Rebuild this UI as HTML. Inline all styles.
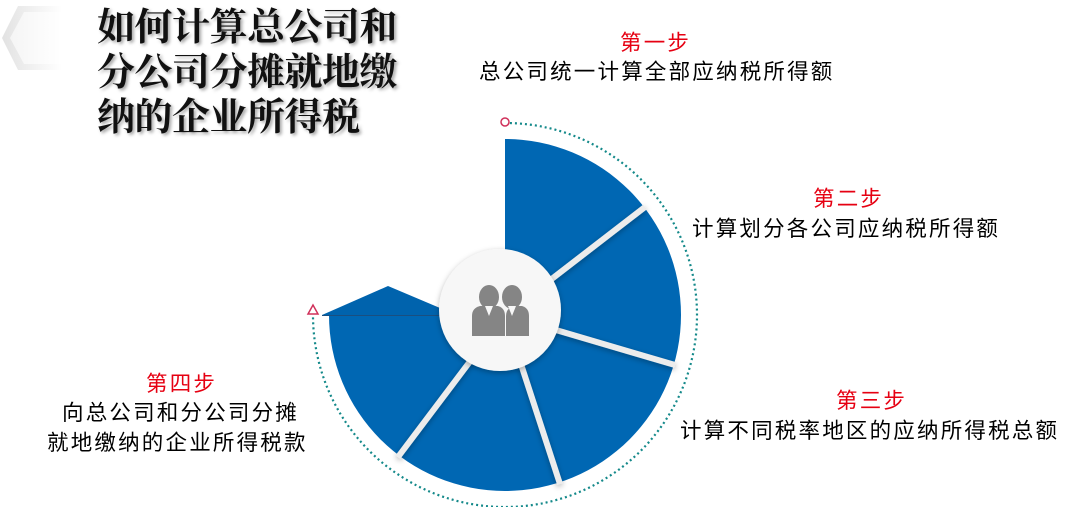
<!DOCTYPE html>
<html><head><meta charset="utf-8"><style>
body{margin:0;width:1080px;height:507px;background:#fff;overflow:hidden;position:relative;font-family:"Liberation Sans","Noto Sans CJK SC",sans-serif}
.t{position:absolute;white-space:nowrap;color:#000;font-size:21.5px;letter-spacing:2.2px;line-height:1}
.r{color:#e60012}
.title{position:absolute;left:97px;top:6px;font-family:"Liberation Serif","Noto Serif CJK SC",serif;font-weight:bold;font-size:38px;line-height:45px;color:#111;text-shadow:2px 2px 3px rgba(0,0,0,.35);letter-spacing:-0.5px}
</style></head><body>
<svg width="1080" height="507" style="position:absolute;left:0;top:0">
<defs>
<linearGradient id="g" x1="0" y1="0" x2="1" y2="0"><stop offset="0" stop-color="#e2e2e2"/><stop offset="1" stop-color="#fff"/></linearGradient>
<filter id="sh" x="-30%" y="-30%" width="160%" height="160%"><feDropShadow dx="0" dy="2" stdDeviation="3" flood-color="#000" flood-opacity=".3"/></filter>
</defs>
<polygon points="18,6 62,6 62,70 18,70 2,38" fill="url(#g)"/>
<polygon points="24,12 62,12 62,64 24,64 10,38" fill="#fff" opacity=".6"/>
<path d="M505,123 A192 192 0 1 1 313,315" fill="none" stroke="#14898a" stroke-width="2.2" stroke-dasharray="2 3"/>
<circle cx="505" cy="122" r="4" fill="#fff" stroke="#d0305a" stroke-width="1.5"/>
<polygon points="313,305 308,314 318,314" fill="#fff" stroke="#d0305a" stroke-width="1.5"/>
<path d="M505,315 L505,139 A176 176 0 1 1 329,315 Z" fill="#0067b3"/>
<polygon points="322,315 388,286 440,308 440,316" fill="#0063ad"/>
<line x1="322" y1="315.5" x2="440" y2="315.5" stroke="#1a4f80" stroke-width="1"/>
<g stroke="#ececec" stroke-width="6" filter="url(#sh)">
<line x1="505" y1="315" x2="645" y2="207"/>
<line x1="505" y1="315" x2="675" y2="365"/>
<line x1="505" y1="315" x2="560" y2="484"/>
<line x1="505" y1="315" x2="398" y2="457"/>
</g>
<circle cx="500" cy="310" r="61" fill="#f7f7f7" filter="url(#sh)"/>
<g fill="#858585">
<ellipse cx="489" cy="297" rx="10" ry="12"/>
<path d="M472,336 L472,316 Q472,308 480,306 L498,306 Q505,308 505,316 L505,336Z"/>
<ellipse cx="512" cy="297" rx="10" ry="12"/>
<path d="M506,336 L506,316 Q506,308 514,306 L522,306 Q529,308 529,316 L529,336Z"/>
</g>
<g fill="#f7f7f7"><polygon points="485,306 493,306 489,316"/><polygon points="508,306 516,306 512,316"/></g>
</svg>
<div class="title">如何计算总公司和<br>分公司分摊就地缴<br>纳的企业所得税</div>
<div class="t r" style="left:620px;top:33px">第一步</div>
<div class="t" style="left:479px;top:62px">总公司统一计算全部应纳税所得额</div>
<div class="t r" style="left:813px;top:189px">第二步</div>
<div class="t" style="left:692px;top:219px">计算划分各公司应纳税所得额</div>
<div class="t r" style="left:836px;top:391px">第三步</div>
<div class="t" style="left:680px;top:421px">计算不同税率地区的应纳所得税总额</div>
<div class="t r" style="left:146px;top:374px">第四步</div>
<div class="t" style="left:62px;top:403px">向总公司和分公司分摊</div>
<div class="t" style="left:47px;top:433px">就地缴纳的企业所得税款</div>
</body></html>
